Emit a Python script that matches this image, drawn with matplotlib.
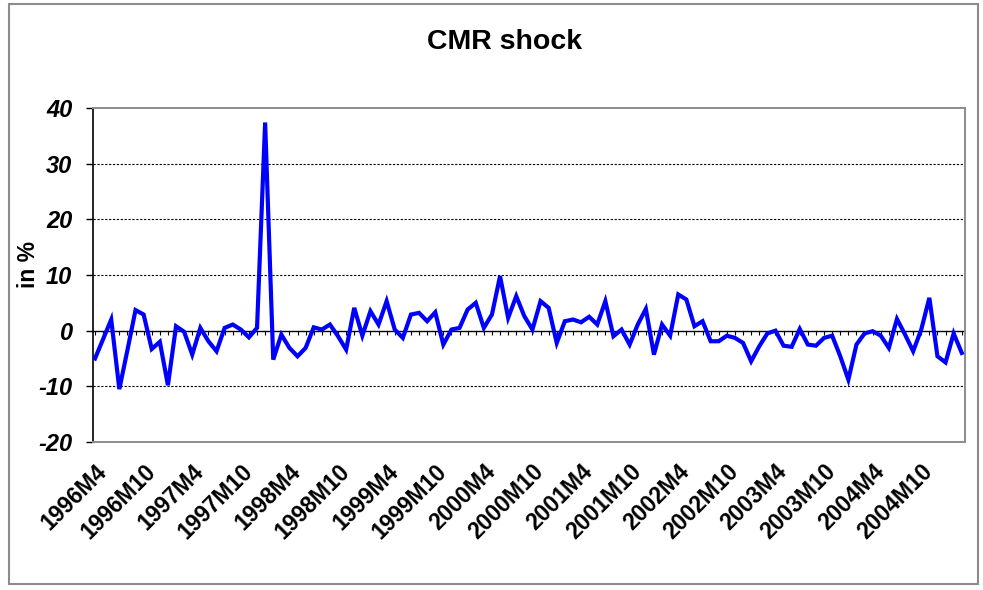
import matplotlib.pyplot as plt
from matplotlib.patches import Rectangle

# monthly CMR shock, 1996M4 .. 2005M3 (in %)
shock = [-5.0, -1.5, 2.0, -10.5, -3.5, 3.7, 2.9, -3.3, -2.0, -9.8,
         0.8, -0.2, -4.3, 0.5, -1.9, -3.7, 0.5, 1.1, 0.2, -1.2,
         0.5, 37.4, -5.2, -0.7, -3.1, -4.6, -3.1, 0.6, 0.2, 1.1,
         -1.0, -3.4, 4.1, -0.9, 3.5, 1.1, 5.3, 0.2, -1.3, 2.9,
         3.2, 1.7, 3.3, -2.5, 0.2, 0.5, 3.8, 5.0, 0.5, 2.9,
         9.8, 2.3, 6.2, 2.6, 0.2, 5.3, 4.1, -2.2, 1.7, 2.0,
         1.5, 2.5, 1.1, 5.3, -1.0, 0.2, -2.5, 1.1, 3.9, -4.3,
         1.1, -0.9, 6.5, 5.6, 0.8, 1.7, -1.9, -1.9, -0.9, -1.3,
         -2.2, -5.5, -2.8, -0.5, 0.0, -2.7, -2.9, 0.3, -2.5, -2.7,
         -1.3, -0.9, -4.6, -8.8, -2.5, -0.5, -0.1, -0.9, -3.1, 2.1,
         -0.7, -3.7, 0.2, 5.9, -4.6, -5.7, -0.5, -4.0]

months = []
y, m = 1996, 4
for _ in shock:
    months.append(f"{y}M{m}")
    m += 1
    if m > 12:
        y, m = y + 1, 1

label_step = 6
y_ticks = [-20, -10, 0, 10, 20, 30, 40]
grid_levels = [-10, 10, 20, 30]

plt.rcParams['font.family'] = ['Liberation Sans', 'DejaVu Sans']

fig = plt.figure(figsize=(9.83, 5.90), dpi=100)
ax = fig.add_axes([93 / 983, 1 - 442 / 590, 872 / 983, 334 / 590])

x = list(range(len(shock)))
for g in grid_levels:
    ax.axhline(g, color='black', lw=0.8, ls=(0, (2, 1.5)), zorder=1)

# category axis crossing at zero, with a tick per month
ax.axhline(0, color='black', lw=1.0, zorder=2)
ax.vlines(x, -0.75, 0, color='black', lw=0.8, zorder=2)

ax.plot(x, shock, color='#0000ff', lw=3.0, solid_joinstyle='miter', zorder=3)

ax.set_xlim(-0.25, len(shock) - 0.6)
ax.set_ylim(-20, 40)
ax.set_yticks(y_ticks)
ax.set_yticklabels([str(t) for t in y_ticks], fontsize=17,
                   fontweight='bold', fontstyle='italic')
ax.tick_params(axis='y', direction='out', length=5, width=1, pad=10)

ax.set_xticks(x[::label_step])
ax.set_xticklabels(months[::label_step], rotation=45, ha='right',
                   rotation_mode='anchor', fontsize=16.5, fontweight='bold')
ax.tick_params(axis='x', length=0, pad=13)

for side in ['top', 'right', 'bottom']:
    ax.spines[side].set_color('#8c8c8c')
    ax.spines[side].set_linewidth(1.4)
ax.spines['left'].set_color('black')
ax.spines['left'].set_linewidth(1.2)

ax.set_ylabel('in %', fontsize=16.5, fontweight='bold')
ax.yaxis.set_label_coords(-0.061, 0.53)

fig.text(505 / 983, 1 - 42 / 590, 'CMR shock', ha='center', va='center',
         fontsize=20.5, fontweight='bold')

# chart area frame
fig.patches.append(Rectangle((9 / 983, 6 / 590), 969 / 983, 580 / 590,
                             transform=fig.transFigure, fill=False,
                             edgecolor='#8c8c8c', lw=1.5))

fig.savefig('out.png', dpi=100)
